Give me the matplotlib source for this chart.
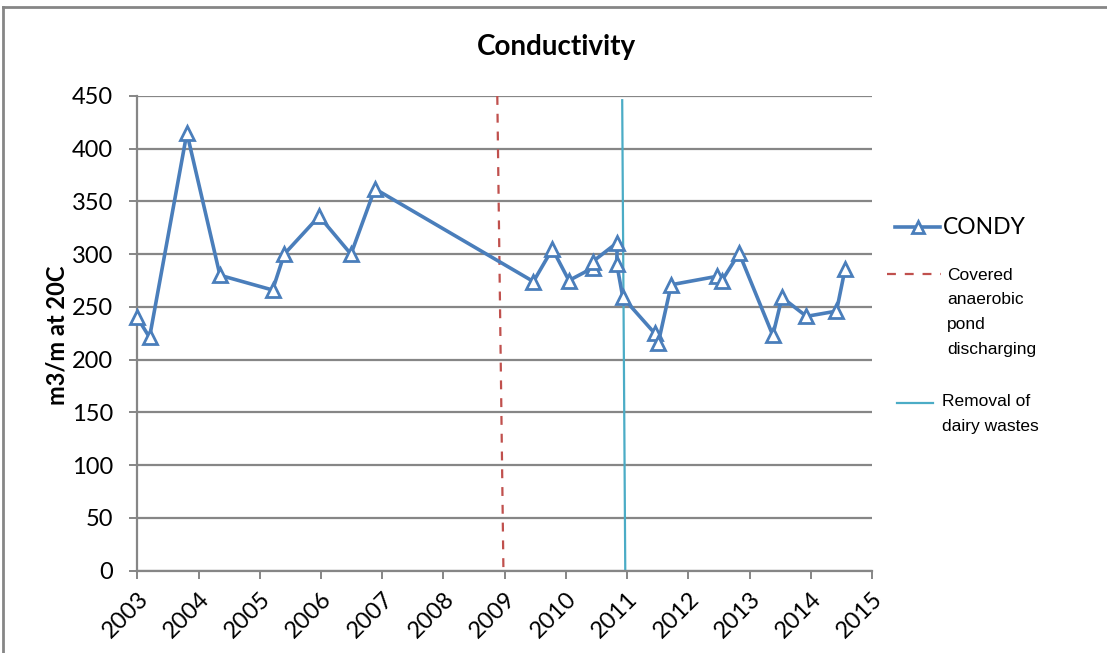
import matplotlib
matplotlib.use("Agg")
import matplotlib.pyplot as plt
from matplotlib.lines import Line2D

# ---- data ----
years = [2003.00, 2003.20, 2003.81, 2004.35, 2005.21, 2005.40, 2005.97, 2006.49,
         2006.88, 2009.47, 2009.78, 2010.05, 2010.44, 2010.44, 2010.84, 2010.83,
         2010.93, 2011.45, 2011.51, 2011.72, 2012.47, 2012.55, 2012.83, 2013.38,
         2013.53, 2013.93, 2014.42, 2014.56]
condy = [240, 221, 415, 280, 266, 300, 336, 300,
         362, 274, 305, 275, 287, 293, 311, 291,
         259, 225, 216, 271, 279, 275, 301, 223,
         259, 241, 246, 286]
pond_x = [2008.88, 2008.98]
pond_y = [450, 0]
dairy_x = [2010.92, 2010.97]
dairy_y = [446, 0]
year_ticks = list(range(2003, 2016))
y_ticks = list(range(0, 451, 50))

title = "Conductivity"
ylabel = "m3/m at 20C"

W, H = 1107, 653
fig = plt.figure(figsize=(W / 100, H / 100), dpi=100)

def fx(px):
    return px / W

def fy(py):
    return 1 - py / H

ax = fig.add_axes([fx(137.3), fy(570.5), fx(872) - fx(137.3), fy(96) - fy(570.5)])

blue = "#4A7EBB"
red = "#C0504D"
cyan = "#4BACC6"
grid = "#868686"

ax.plot(years, condy, color=blue, lw=2.6, marker="^", ms=10, mfc="white",
        mec=blue, mew=2.0, zorder=3, clip_on=False)
ax.plot(pond_x, pond_y, color=red, lw=1.6, dashes=(4, 4), zorder=2)
ax.plot(dairy_x, dairy_y, color=cyan, lw=1.6, zorder=2)

ax.set_xlim(2003, 2015)
ax.set_ylim(0, 450)
ax.set_xticks(year_ticks)
ax.set_yticks(y_ticks)
ax.yaxis.grid(True, color=grid, lw=1.6)
ax.set_axisbelow(True)
for s in ["top", "right"]:
    ax.spines[s].set_visible(False)
for s in ["left", "bottom"]:
    ax.spines[s].set_color(grid)
    ax.spines[s].set_linewidth(1.6)

tick_font = "Lato"
ax.tick_params(axis="y", length=5.5, width=1.4, color=grid, pad=12,
               labelsize=17, labelfontfamily=tick_font)
ax.tick_params(axis="x", length=5.5, width=1.4, color=grid, pad=7,
               labelsize=17, labelfontfamily=tick_font)
ax.set_xticklabels([str(y) for y in year_ticks], rotation=45, ha="right",
                   va="top", rotation_mode="anchor")

fig.text(fx(556), fy(47), title, ha="center", va="center", fontsize=20,
         fontweight="bold", family="Lato")
fig.text(fx(57), fy(335), ylabel, ha="center", va="center", rotation=90,
         fontsize=17, fontweight="bold", family="Lato")

# outer chart border (top and left only visible)
fig.add_artist(Line2D([fx(3), 1], [fy(7), fy(7)], color=grid, lw=2))
fig.add_artist(Line2D([fx(3), fx(3)], [fy(7), 0], color=grid, lw=2))

# ---- legend ----
fig.add_artist(Line2D([fx(895), fx(940)], [fy(227), fy(227)], color=blue, lw=2.6))
fig.add_artist(Line2D([fx(917.5)], [fy(227)], marker="^", ms=8, mfc="white",
                      mec=blue, mew=2.0, color=blue))
fig.text(fx(943), fy(227), "CONDY", ha="left", va="center", fontsize=16.5,
         family="Lato")

fig.add_artist(Line2D([fx(887), fx(941)], [fy(274), fy(274)], color=red, lw=1.6,
                      dashes=(4, 4)))
small = ["Liberation Sans", "DejaVu Sans"]
for i, t in enumerate(["Covered", "anaerobic", "pond", "discharging"]):
    fig.text(fx(947), fy(275 + 24.8 * i), t, ha="left", va="center",
             fontsize=12.5, family=small)

fig.add_artist(Line2D([fx(897), fx(933)], [fy(403), fy(403)], color=cyan, lw=1.6))
for i, t in enumerate(["Removal of", "dairy wastes"]):
    fig.text(fx(942), fy(401 + 25 * i), t, ha="left", va="center",
             fontsize=12.5, family=small)

fig.savefig("out.png", dpi=100)
